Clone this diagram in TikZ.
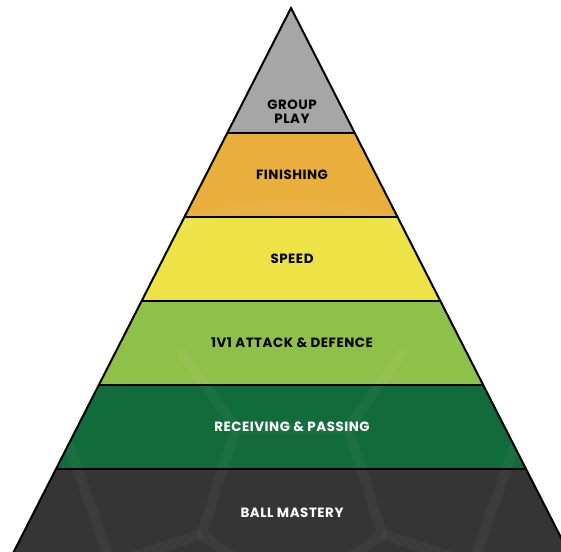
\documentclass[tikz,border=0pt]{standalone}
\usepackage{fontspec}
\newfontfamily\tierfont{Poppins}[LetterSpace=4]
\definecolor{tierGray}{HTML}{A6A6A6}
\definecolor{tierOrange}{HTML}{EAAE3C}
\definecolor{tierYellow}{HTML}{EDE346}
\definecolor{tierLime}{HTML}{8FC04A}
\definecolor{tierGreen}{HTML}{126B3B}
\definecolor{tierDark}{HTML}{353535}
\tikzset{
  band/.style={draw=none},
  divider/.style={line width=2pt, black},
  outline/.style={line width=2pt, black, line join=miter},
  ballline/.style={white, opacity=0.04, line width=10pt},
  tierlabel/.style={font=\tierfont\bfseries\fontsize{13.4}{15}\selectfont, align=center, inner sep=0pt},
  darklabel/.style={tierlabel, text=black},
  lightlabel/.style={tierlabel, text=white},
}
\begin{document}
\begin{tikzpicture}[x=1pt,y=-1pt]
\useasboundingbox (0,0) rectangle (561,551);
% pyramid outline corners (base lies below the page edge)
\coordinate (apex) at (291,8);
\coordinate (baseL) at (-10.8,600);
\coordinate (baseR) at (592.8,600);
\begin{scope}
  \clip (apex) -- (baseR) -- (baseL) -- cycle;
  \fill[tierGray]   (-20,0)   rectangle (600,133);
  \fill[tierOrange] (-20,133) rectangle (600,217);
  \fill[tierYellow] (-20,217) rectangle (600,301);
  \fill[tierLime]   (-20,301) rectangle (600,385);
  \fill[tierGreen]  (-20,385) rectangle (600,469);
  \fill[tierDark]   (-20,469) rectangle (600,600);
  % faint football pattern behind the tiers
  \begin{scope}[shift={(292,505)}]
    \draw[ballline] (0,0) circle (300);
    \draw[ballline] (90:95) -- (162:95) -- (234:95) -- (306:95) -- (18:95) -- cycle;
    \foreach \a in {90,162,234,306,18} {
      \draw[ballline] (\a:95) -- (\a:190);
    }
    \draw[ballline] (54:240) -- (90:190) -- (126:240);
    \draw[ballline] (126:240) -- (162:190) -- (198:240);
    \draw[ballline] (-18:240) -- (18:190) -- (54:240);
  \end{scope}
  % tier dividers
  \draw[divider] (-20,133) -- (600,133);
  \draw[divider] (-20,217) -- (600,217);
  \draw[divider] (-20,301) -- (600,301);
  \draw[divider] (-20,385) -- (600,385);
  \draw[divider] (-20,469) -- (600,469);
\end{scope}
\draw[outline] (baseL) -- (apex) -- (baseR);
% tier labels
\node[darklabel]  (group)     at (292,112) {GROUP\\[-1pt]PLAY};
\node[darklabel]  (finishing) at (292,175) {FINISHING};
\node[darklabel]  (speed)     at (292,259) {SPEED};
\node[darklabel]  (onevone)   at (292,343) {1V1 ATTACK \& DEFENCE};
\node[lightlabel] (receiving) at (292,427) {RECEIVING \& PASSING};
\node[lightlabel] (mastery)   at (292,513) {BALL MASTERY};
\end{tikzpicture}
\end{document}
